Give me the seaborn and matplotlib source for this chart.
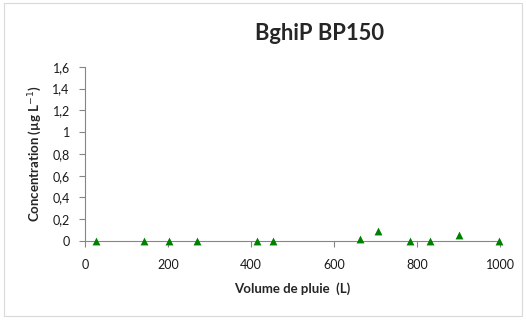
import matplotlib
matplotlib.use("Agg")
import matplotlib.pyplot as plt
import seaborn as sns
import pandas as pd
from matplotlib.patches import Rectangle

# données
volume = [26, 142, 202, 271, 414, 452, 663, 707, 783, 831, 901, 998]
concentration = [0, 0, 0, 0, 0, 0, 0.02, 0.09, 0, 0, 0.058, 0]
y_ticks = [0, 0.2, 0.4, 0.6, 0.8, 1.0, 1.2, 1.4, 1.6]
x_ticks = [0, 200, 400, 600, 800, 1000]

df = pd.DataFrame({'volume': volume, 'concentration': concentration})

sns.set_style('white')
plt.rcParams['font.family'] = ['Lato', 'DejaVu Sans']

fig = plt.figure(figsize=(5.26, 3.2), dpi=100)
ax = fig.add_axes([0.1616, 0.247, 0.789, 0.544])

sns.scatterplot(data=df, x='volume', y='concentration', ax=ax,
                marker='^', color='#008000', s=32, edgecolor='#008000',
                linewidth=0, clip_on=False, zorder=3)

ax.set_xlim(0, 1000)
ax.set_ylim(0, 1.6)
ax.set_xticks(x_ticks)
ax.set_yticks(y_ticks)
ax.set_yticklabels([('%g' % v).replace('.', ',') for v in y_ticks])
ax.tick_params(axis='both', labelsize=9, length=4, width=0.8,
               color='#868686', direction='out', bottom=True, left=True,
               labelcolor='#1a1a1a')
ax.tick_params(axis='y', pad=7)
ax.tick_params(axis='x', pad=9)

for side in ['top', 'right']:
    ax.spines[side].set_visible(False)
for side in ['left', 'bottom']:
    ax.spines[side].set_color('#868686')
    ax.spines[side].set_linewidth(0.8)

ax.set_xlabel('Volume de pluie  (L)', fontsize=9.5, fontweight='bold', labelpad=8)
ax.set_ylabel('Concentration (µg L$^{-1}$)', fontsize=9.5, fontweight='bold', labelpad=6)

fig.text(0.608, 0.895, 'BghiP BP150', fontsize=15.8, fontweight='bold',
         ha='center', va='center')

fig.patches.append(Rectangle((0.008, 0.012), 0.985, 0.978, transform=fig.transFigure,
                             fill=False, edgecolor='#d9d9d9', linewidth=0.8))

fig.savefig('out.png', dpi=100)
